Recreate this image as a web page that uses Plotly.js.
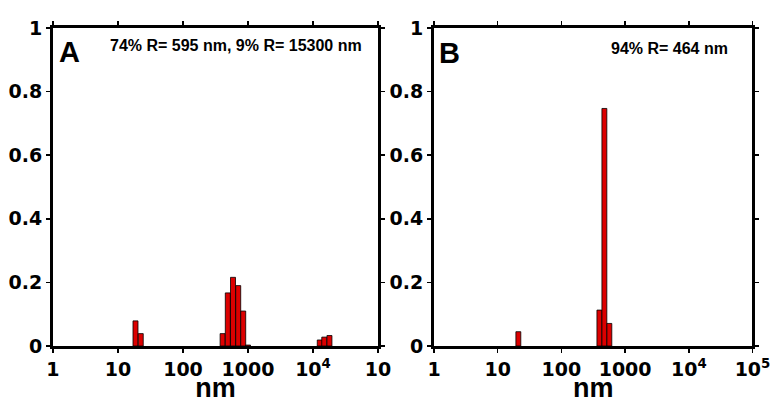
<!DOCTYPE html>
<html>
<head>
<meta charset="utf-8">
<script src="https://cdn.plot.ly/plotly-3.0.1.min.js"></script>
<style>html,body{margin:0;padding:0;background:#fff;}#chart{width:771px;height:403px;}</style>
</head>
<body>
<div id="chart"></div>
<script>
// Panel A: size (nm) and fraction
const sizesA = [18.6, 22.4, 407, 489, 588, 707, 844, 1000, 12700, 14900, 17900];
const fracA  = [0.079, 0.039, 0.039, 0.167, 0.216, 0.190, 0.110, 0.003, 0.019, 0.028, 0.033];
// Panel B
const sizesB = [21.1, 395, 473, 566];
const fracB  = [0.045, 0.113, 0.747, 0.071];

const tickValsX = [0, 1, 2, 3, 4, 5];
const tickTextA = ['1', '10', '100', '1000', '10<sup>4</sup>', '10'];
const tickTextB = ['1', '10', '100', '1000', '10<sup>4</sup>', '10<sup>5</sup>'];
const tickValsY = [0, 0.2, 0.4, 0.6, 0.8, 1];
const tickTextY = ['0', '0.2', '0.4', '0.6', '0.8', '1'];
const labelA = '74% R= 595 nm, 9% R= 15300 nm';
const labelB = '94% R= 464 nm';

const FONT = 'Liberation Sans, Arial, sans-serif';
const TFONT = 'DejaVu Sans, sans-serif';
const barStyle = {color: '#dc0000', line: {color: '#000', width: 0.8}};
const BW = 0.077;

const traces = [
  {type: 'bar', x: sizesA.map(v => Math.log10(v)), y: fracA, width: BW,
   marker: barStyle, xaxis: 'x', yaxis: 'y', hoverinfo: 'skip'},
  {type: 'bar', x: sizesB.map(v => Math.log10(v)), y: fracB, width: BW,
   marker: barStyle, xaxis: 'x2', yaxis: 'y2', hoverinfo: 'skip'}
];

function xax(domain, ticktext, anchor) {
  return {domain: domain, range: [0, 5], tickmode: 'array', tickvals: tickValsX, ticktext: ticktext,
    showline: true, linewidth: 3, linecolor: '#000', mirror: 'ticks', ticks: 'outside',
    ticklen: 4, tickwidth: 1.5, tickcolor: '#000', showgrid: false, zeroline: false,
    ticklabeloverflow: 'allow',
    anchor: anchor, tickfont: {family: TFONT, size: 19, color: '#000', weight: 'bold'},
    title: {text: '<b>nm</b>', font: {family: FONT, size: 27, color: '#000'}, standoff: 6}};
}
function yax(anchor) {
  return {domain: [0.1414, 0.9305], range: [0, 1], tickmode: 'array', tickvals: tickValsY, ticktext: tickTextY,
    showline: true, linewidth: 3, linecolor: '#000', mirror: 'ticks', ticks: 'outside',
    ticklen: 4, tickwidth: 1.5, tickcolor: '#000', showgrid: false, zeroline: false,
    ticklabeloverflow: 'allow',
    anchor: anchor, tickfont: {family: TFONT, size: 19, color: '#000', weight: 'bold'}};
}

const layout = {
  width: 771, height: 403, showlegend: false,
  margin: {l: 0, r: 0, t: 0, b: 0},
  paper_bgcolor: '#fff', plot_bgcolor: '#fff', bargap: 0,
  xaxis: xax([0.0687, 0.4903], tickTextA, 'y'),
  yaxis: yax('x'),
  xaxis2: xax([0.5629, 0.976], tickTextB, 'y2'),
  yaxis2: yax('x2'),
  annotations: [
    {xref: 'x', yref: 'y', x: 0.25, y: 0.925, text: '<b>A</b>', showarrow: false,
     font: {family: FONT, size: 29, color: '#000'}},
    {xref: 'x', yref: 'y', x: 2.81, y: 0.944, text: '<b>' + labelA + '</b>', showarrow: false,
     font: {family: FONT, size: 16, color: '#000'}},
    {xref: 'x2', yref: 'y2', x: 0.25, y: 0.922, text: '<b>B</b>', showarrow: false,
     font: {family: FONT, size: 29, color: '#000'}},
    {xref: 'x2', yref: 'y2', x: 3.70, y: 0.937, text: '<b>' + labelB + '</b>', showarrow: false,
     font: {family: FONT, size: 16, color: '#000'}}
  ]
};

Plotly.newPlot('chart', traces, layout, {staticPlot: true, displayModeBar: false});
</script>
</body>
</html>
